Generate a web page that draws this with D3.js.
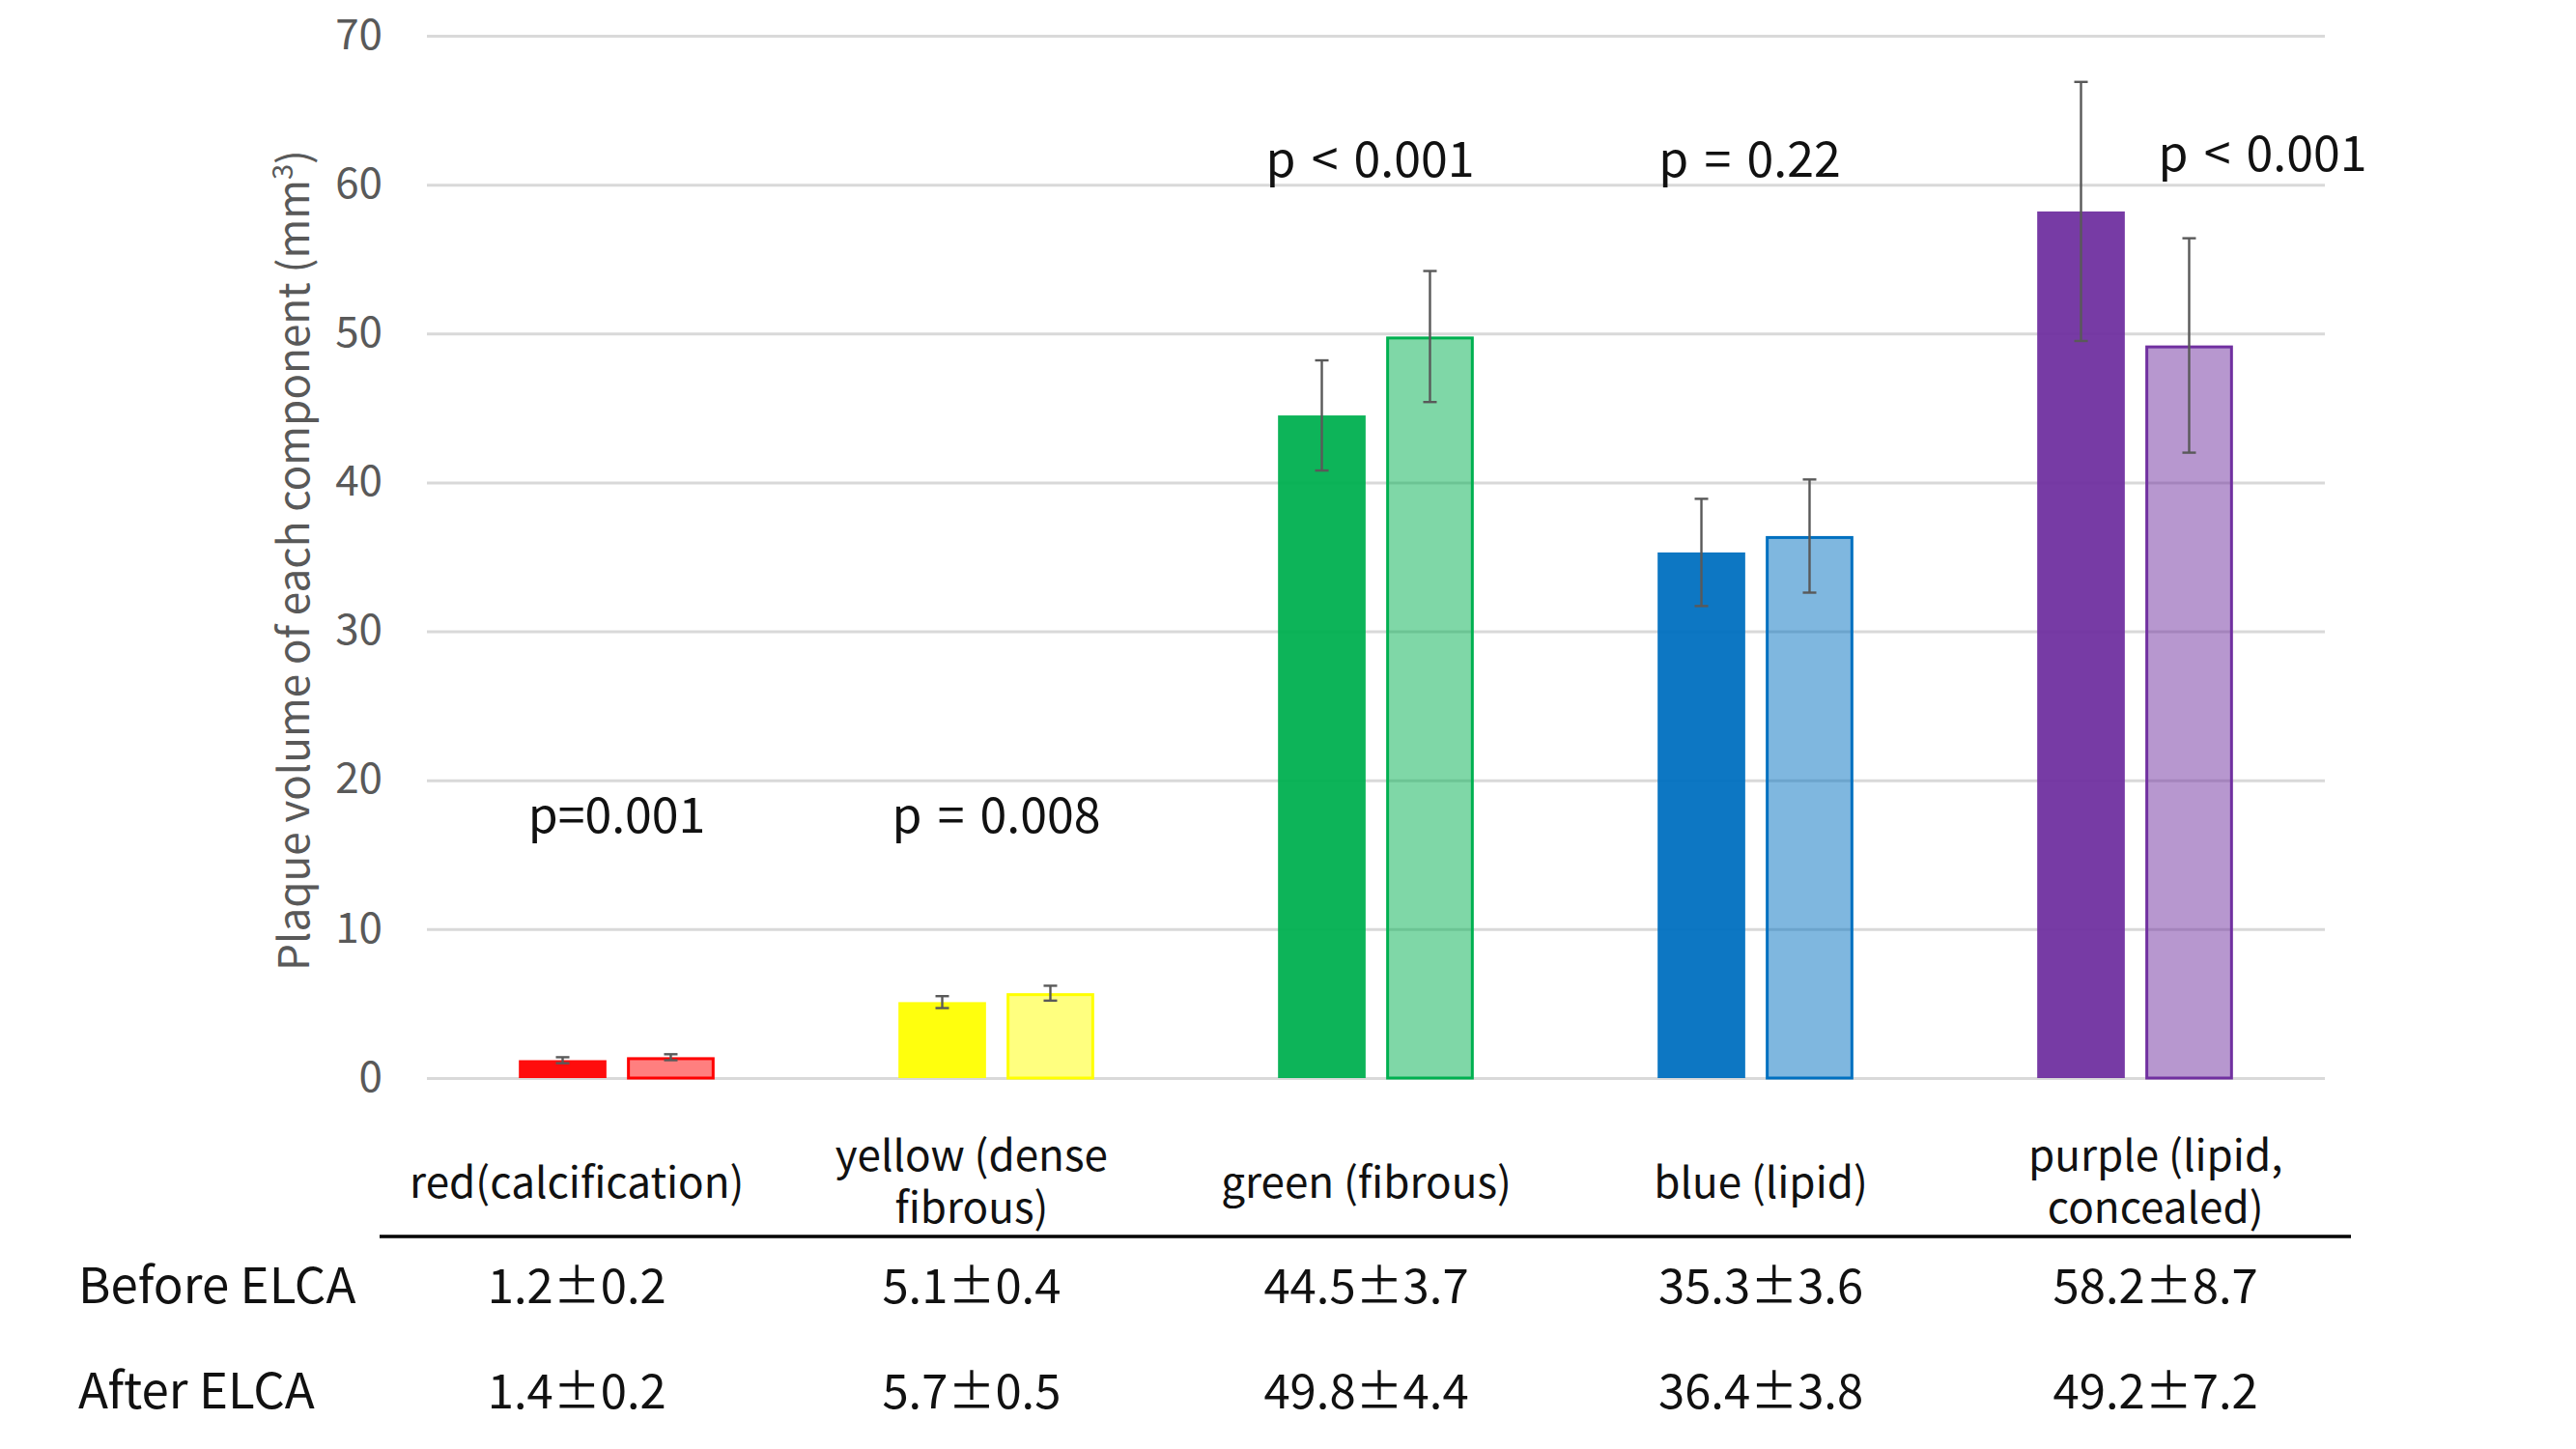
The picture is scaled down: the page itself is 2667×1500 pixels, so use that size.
<!DOCTYPE html>
<html>
<head>
<meta charset="utf-8">
<script src="https://cdn.jsdelivr.net/npm/d3@7"></script>
<style>
  body { margin: 0; background: #fff; }
  svg { display: block; font-family: "Noto Sans CJK JP", "Noto Sans", sans-serif; }
</style>
</head>
<body>
<div id="main"></div>
<script>
const w = 2667, h = 1500;

// data
const categories = ['red', 'yellow', 'green', 'blue', 'purple'];
const catLabels = [['red(calcification)'], ['yellow (dense', 'fibrous)'], ['green (fibrous)'], ['blue (lipid)'], ['purple (lipid,', 'concealed)']];
const colors = ['#FF0000', '#FFFF00', '#00B050', '#0070C0', '#7030A0'];
const series = ['Before ELCA', 'After ELCA'];
const beforeMean = [1.2, 5.1, 44.5, 35.3, 58.2];
const beforeSD = [0.2, 0.4, 3.7, 3.6, 8.7];
const afterMean = [1.4, 5.7, 49.8, 36.4, 49.2];
const afterSD = [0.2, 0.5, 4.4, 3.8, 7.2];
const pValues = ['p=0.001', 'p = 0.008', 'p < 0.001', 'p = 0.22', 'p < 0.001'];
const yTicks = [0, 10, 20, 30, 40, 50, 60, 70];

const svg = d3.select('#main')
    .append('svg')
    .attr('width', w)
    .attr('height', h)

const yScale = d3.scaleLinear()
    .domain([0, 70])
    .range([1116, 37])

const x0 = d3.scaleBand()
    .domain(categories)
    .range([442, 2407])

const x1 = d3.scaleBand()
    .domain(series)
    .range([0, x0.bandwidth()])
    .paddingInner(0.19)
    .paddingOuter(0.85)

// table columns under the chart
const tx = d3.scaleBand()
    .domain(categories)
    .range([393, 2436])

// gridlines + tick labels
const yAxis = d3.axisLeft(yScale)
    .tickValues(yTicks)
    .tickSize(-(x0.range()[1] - x0.range()[0]))
    .tickPadding(46)

const gy = svg.append('g')
    .attr('transform', 'translate(' + x0.range()[0] + ',0)')
    .call(yAxis)
    .attr('font-family', null)
    .attr('font-size', null)
gy.select('.domain').remove()
gy.selectAll('.tick line')
    .attr('stroke', '#D9D9D9')
    .attr('stroke-width', 3)
gy.selectAll('.tick text')
    .attr('fill', '#595959')
    .style('font-size', '44px')
    .attr('dy', '0.3em')

// bars
const rows = categories.map((c, i) => [
    {cat: c, s: series[0], v: beforeMean[i], sd: beforeSD[i], col: colors[i], after: false},
    {cat: c, s: series[1], v: afterMean[i], sd: afterSD[i], col: colors[i], after: true}
]).flat()

svg.append('g')
    .selectAll('rect')
    .data(rows)
    .enter()
    .append('rect')
    .attr('x', d => x0(d.cat) + x1(d.s) + (d.after ? 1.5 : 0))
    .attr('y', d => yScale(d.v) + (d.after ? 1.5 : 0))
    .attr('width', d => x1.bandwidth() - (d.after ? 3 : 0))
    .attr('height', d => yScale(0) - yScale(d.v) - (d.after ? 1.5 : 0))
    .attr('fill', d => d.col)
    .attr('fill-opacity', d => d.after ? 0.5 : 0.95)
    .attr('stroke', d => d.after ? d.col : 'none')
    .attr('stroke-width', 3)

// error bars
const eb = svg.append('g')
    .attr('stroke', '#595959')
    .attr('stroke-width', 2.4)
    .selectAll('g')
    .data(rows)
    .enter()
    .append('g')
    .attr('transform', d => 'translate(' + (x0(d.cat) + x1(d.s) + x1.bandwidth() / 2) + ',0)')

eb.append('line')
    .attr('y1', d => yScale(d.v - d.sd))
    .attr('y2', d => yScale(d.v + d.sd))
eb.append('line')
    .attr('x1', -7).attr('x2', 7)
    .attr('y1', d => yScale(d.v + d.sd))
    .attr('y2', d => yScale(d.v + d.sd))
eb.append('line')
    .attr('x1', -7).attr('x2', 7)
    .attr('y1', d => yScale(d.v - d.sd))
    .attr('y2', d => yScale(d.v - d.sd))

// p values
svg.append('g')
    .selectAll('text')
    .data(pValues)
    .enter()
    .append('text')
    .text(d => d)
    .attr('x', (d, i) => x0(categories[i]) + x0.bandwidth() / 2 + (i == 4 ? 132 : i >= 2 ? -6 : 0))
    .attr('y', (d, i) => i < 2 ? yScale(16.5) : yScale(i == 4 ? 60.9 : 60.5))
    .attr('text-anchor', 'middle')
    .attr('fill', '#111')
    .style('font-size', '50px')
    .style('word-spacing', '5px')

// y title
svg.append('text')
    .attr('transform', 'translate(320,580) rotate(-90)')
    .attr('text-anchor', 'middle')
    .attr('fill', '#595959')
    .style('font-size', '44px')
    .text('Plaque volume of each component (mm')
    .append('tspan')
    .attr('dy', -17)
    .style('font-size', '29px')
    .text('3')
    .append('tspan')
    .attr('dy', 17)
    .style('font-size', '44px')
    .text(')')

// table: category labels
const lab = svg.append('g')
    .selectAll('text')
    .data(catLabels)
    .enter()
    .append('text')
    .attr('x', (d, i) => tx(categories[i]) + tx.bandwidth() / 2)
    .attr('y', d => d.length > 1 ? 1212 : 1240)
    .attr('text-anchor', 'middle')
    .attr('fill', '#111')
    .style('font-size', '44px')
lab.selectAll('tspan')
    .data(d => d)
    .enter()
    .append('tspan')
    .attr('x', function () { return d3.select(this.parentNode).attr('x') })
    .attr('dy', (d, i) => i ? 54 : 0)
    .text(d => d)

svg.append('line')
    .attr('x1', tx.range()[0])
    .attr('x2', tx.range()[1] - 2)
    .attr('y1', 1280)
    .attr('y2', 1280)
    .attr('stroke', '#000')
    .attr('stroke-width', 3.5)

// table rows
const tableRows = [
    {name: series[0], m: beforeMean, sd: beforeSD, y: 1349},
    {name: series[1], m: afterMean, sd: afterSD, y: 1458}
]
tableRows.forEach(r => {
    svg.append('text')
        .text(r.name)
        .attr('x', 81)
        .attr('y', r.y)
        .attr('fill', '#111')
        .style('font-size', '51px')
    svg.append('g')
        .selectAll('text')
        .data(categories)
        .enter()
        .append('text')
        .text((c, i) => r.m[i].toFixed(1) + '±' + r.sd[i].toFixed(1))
        .attr('x', c => tx(c) + tx.bandwidth() / 2)
        .attr('y', r.y)
        .attr('text-anchor', 'middle')
        .attr('fill', '#111')
        .style('font-size', '49px')
})
</script>
</body>
</html>
